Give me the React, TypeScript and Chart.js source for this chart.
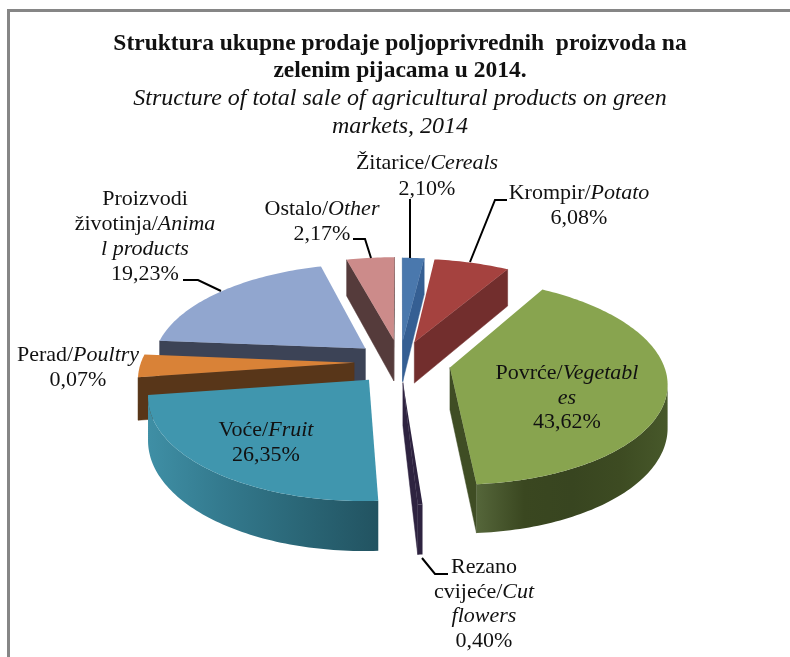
import React, { useEffect, useRef } from "react";
import { Chart, registerables } from "chart.js";

Chart.register(...registerables);

const FONT = '"Liberation Serif", "Times New Roman", serif';

const titleLines = ["Struktura ukupne prodaje poljoprivrednih  proizvoda na", "zelenim pijacama u 2014."];
const subtitleLines = ["Structure of total sale of agricultural products on green", "markets, 2014"];

const categories = ["Cereals", "Potato", "Vegetables", "Cut flowers", "Fruit", "Poultry", "Animal products", "Other"];
// Printed percentages (these are what the labels say).
const printedValues = ["2,10%", "6,08%", "43,62%", "0,40%", "26,35%", "0,07%", "19,23%", "2,17%"];
// Slice sizes as they are actually drawn in the picture (share of the full turn, %).
const drawnShares = [1.9, 6.6, 40.3, 0.3, 23.6, 3.6, 19.5, 4.2];
const explode = [43.6, 42.7, 47.4, 39.8, 44.6, 42.7, 42.7, 45.5];

const topColors = ["#4a78ad", "#a5423f", "#88a44f", "#2e2340", "#4096ae", "#d98237", "#91a6cf", "#cc8b8a"];
const wallColors = ["#355f93", "#722e2d", "#3f4d24", "#2e2340", "#2f7488", "#583619", "#3c4356", "#553b3b"];
const rimStops: string[][] = [
  ["#355f93", "#2c4f7b"],
  ["#722e2d", "#5f2625"],
  ["#55663a", "#3a4720", "#384520", "#3d4b22", "#47582a"],
  ["#2e2340", "#2e2340"],
  ["#3f8fa5", "#33798d", "#2a6676", "#225361"],
  ["#6a421f", "#583619"],
  ["#3c4356", "#3c4356"],
  ["#553b3b", "#553b3b"],
];
const drawOrder = [7, 0, 1, 6, 5, 2, 3, 4];

type Run = { t: string; i?: boolean };
type Lbl = { x: number; lines: { y: number; runs: Run[] }[] };
const labelBlocks: Lbl[] = [
  { x: 427, lines: [{ y: 163, runs: [{ t: "Žitarice/" }, { t: "Cereals", i: true }] }, { y: 189, runs: [{ t: printedValues[0] }] }] },
  { x: 579, lines: [{ y: 193, runs: [{ t: "Krompir/" }, { t: "Potato", i: true }] }, { y: 218, runs: [{ t: printedValues[1] }] }] },
  { x: 567, lines: [{ y: 373, runs: [{ t: "Povrće/" }, { t: "Vegetabl", i: true }] }, { y: 398, runs: [{ t: "es", i: true }] }, { y: 422, runs: [{ t: printedValues[2] }] }] },
  { x: 484, lines: [{ y: 567, runs: [{ t: "Rezano" }] }, { y: 592, runs: [{ t: "cvijeće/" }, { t: "Cut", i: true }] }, { y: 616, runs: [{ t: "flowers", i: true }] }, { y: 641, runs: [{ t: printedValues[3] }] }] },
  { x: 266, lines: [{ y: 430, runs: [{ t: "Voće/" }, { t: "Fruit", i: true }] }, { y: 455, runs: [{ t: printedValues[4] }] }] },
  { x: 78, lines: [{ y: 355, runs: [{ t: "Perad/" }, { t: "Poultry", i: true }] }, { y: 380, runs: [{ t: printedValues[5] }] }] },
  { x: 145, lines: [{ y: 199, runs: [{ t: "Proizvodi" }] }, { y: 224, runs: [{ t: "životinja/" }, { t: "Anima", i: true }] }, { y: 249, runs: [{ t: "l products", i: true }] }, { y: 274, runs: [{ t: printedValues[6] }] }] },
  { x: 322, lines: [{ y: 209, runs: [{ t: "Ostalo/" }, { t: "Other", i: true }] }, { y: 234, runs: [{ t: printedValues[7] }] }] },
];
const leaderLines: number[][][] = [
  [[410, 199], [410, 258]],
  [[507, 200], [495, 200], [470, 262]],
  [[353, 239], [365, 239], [371, 258]],
  [[183, 280], [198, 280], [221, 291]],
  [[422, 558], [435, 574], [448, 574]],
];

const RX = 213;
const RY = 99.6;
const PERSP = 0.1355;
const DEPTH = 42;
const LABEL_SIZE = 22;

const pie3d = {
  id: "pie3d",
  beforeDraw(chart: any) {
    const c = chart.ctx;
    c.save();
    c.strokeStyle = "#868686";
    c.lineWidth = 3;
    c.beginPath();
    c.moveTo(8.5, 657);
    c.lineTo(8.5, 10.5);
    c.lineTo(790, 10.5);
    c.stroke();
    c.restore();
  },
  beforeDatasetDraw(chart: any) {
    const c = chart.ctx;
    const arcs = chart.getDatasetMeta(0).data;
    drawOrder.forEach((idx) => {
      const el = arcs[idx];
      const { x, y, startAngle, endAngle, outerRadius } = el.getProps(["x", "y", "startAngle", "endAngle", "outerRadius"], true);
      const off = el.options.offset / outerRadius;
      const mid = (startAngle + endAngle) / 2;
      const ox = Math.cos(mid) * off;
      const oy = Math.sin(mid) * off;
      const project = (mx: number, my: number) => {
        const s = 1 / (1 - PERSP * my);
        return { x: x + mx * RX * s, y: y + my * RY * s, d: DEPTH * s };
      };
      const apex = project(ox, oy);
      const n = Math.max(2, Math.ceil((endAngle - startAngle) / 0.02));
      const rim: any[] = [];
      for (let i = 0; i <= n; i++) {
        const a = startAngle + ((endAngle - startAngle) * i) / n;
        rim.push(project(ox + Math.cos(a), oy + Math.sin(a)));
      }
      const quad = (p: any, q: any, color: string) => {
        c.beginPath();
        c.moveTo(p.x, p.y);
        c.lineTo(q.x, q.y);
        c.lineTo(q.x, q.y + q.d);
        c.lineTo(p.x, p.y + p.d);
        c.closePath();
        c.fillStyle = color;
        c.strokeStyle = color;
        c.lineWidth = 0.5;
        c.fill();
        c.stroke();
      };
      const first = rim[0];
      const last = rim[rim.length - 1];
      if (first.x < apex.x) quad(apex, first, wallColors[idx]);
      if (apex.x < last.x) quad(last, apex, wallColors[idx]);
      // visible stretches of the outer rim
      let run: any[] = [];
      const flush = () => {
        if (run.length < 2) { run = []; return; }
        const x0 = run[run.length - 1].x;
        const x1 = run[0].x;
        const g = c.createLinearGradient(x0, 0, x1, 0);
        const stops = rimStops[idx];
        stops.forEach((col, k) => g.addColorStop(k / (stops.length - 1), col));
        c.beginPath();
        run.forEach((p, k) => (k ? c.lineTo(p.x, p.y) : c.moveTo(p.x, p.y)));
        for (let k = run.length - 1; k >= 0; k--) c.lineTo(run[k].x, run[k].y + run[k].d);
        c.closePath();
        c.fillStyle = g;
        c.fill();
        run = [];
      };
      for (let i = 0; i < rim.length - 1; i++) {
        if (rim[i + 1].x < rim[i].x) {
          if (!run.length) run.push(rim[i]);
          run.push(rim[i + 1]);
        } else flush();
      }
      flush();
      c.beginPath();
      c.moveTo(apex.x, apex.y);
      rim.forEach((p) => c.lineTo(p.x, p.y));
      c.closePath();
      c.fillStyle = topColors[idx];
      c.fill();
    });
    return false;
  },
  afterDraw(chart: any) {
    const c = chart.ctx;
    c.save();
    c.strokeStyle = "#000";
    c.lineWidth = 2;
    leaderLines.forEach((pts) => {
      c.beginPath();
      pts.forEach((p, i) => (i ? c.lineTo(p[0], p[1]) : c.moveTo(p[0], p[1])));
      c.stroke();
    });
    c.fillStyle = "#111";
    c.textBaseline = "middle";
    c.textAlign = "left";
    const fontOf = (r: Run) => `${r.i ? "italic " : ""}${LABEL_SIZE}px ${FONT}`;
    labelBlocks.forEach((b) => {
      b.lines.forEach((l) => {
        let w = 0;
        l.runs.forEach((r) => { c.font = fontOf(r); w += c.measureText(r.t).width; });
        let px = b.x - w / 2;
        l.runs.forEach((r) => {
          c.font = fontOf(r);
          c.fillText(r.t, px, l.y);
          px += c.measureText(r.t).width;
        });
      });
    });
    c.restore();
  },
};

export default function App() {
  const ref = useRef<HTMLCanvasElement>(null);
  useEffect(() => {
    const chart = new Chart(ref.current as HTMLCanvasElement, {
      type: "pie",
      data: {
        labels: categories,
        datasets: [{ data: drawnShares, backgroundColor: topColors, borderWidth: 0, offset: explode }],
      },
      options: {
        animation: false,
        responsive: false,
        devicePixelRatio: 1,
        layout: { padding: { top: 30, left: 10, right: 0, bottom: 73 } },
        plugins: {
          legend: { display: false },
          tooltip: { enabled: false },
          title: {
            display: true,
            text: titleLines,
            color: "#111",
            font: { family: FONT, size: 23.5, weight: "bold", lineHeight: 1.17 },
            padding: 0,
          },
          subtitle: {
            display: true,
            text: subtitleLines,
            color: "#111",
            font: { family: FONT, size: 24, style: "italic", weight: "normal", lineHeight: 1.146 },
            padding: 0,
          },
        },
      } as any,
      plugins: [pie3d as any],
    });
    return () => chart.destroy();
  }, []);
  return (
    <canvas
      ref={ref}
      width={790}
      height={657}
      style={{ position: "fixed", left: 0, top: 0, width: 790, height: 657, display: "block" }}
    />
  );
}
